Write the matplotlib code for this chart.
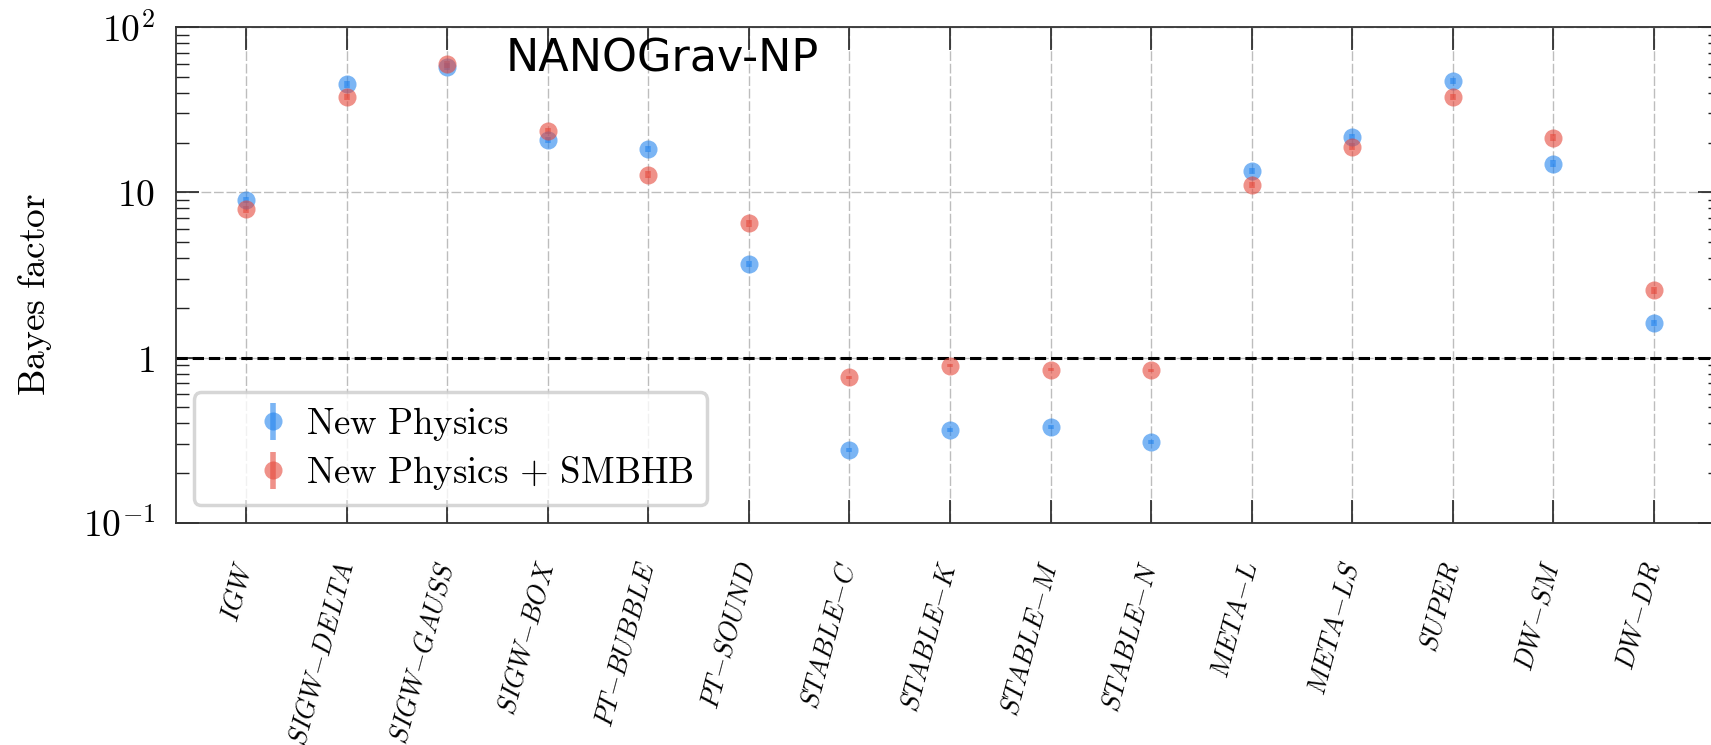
import numpy as np
import matplotlib
matplotlib.use('Agg')
import matplotlib.pyplot as plt
from matplotlib.ticker import FixedLocator, FixedFormatter, LogLocator, NullFormatter

plt.rcParams['mathtext.fontset'] = 'cm'

# Modelos y factores de Bayes
modelos = ['IGW', 'SIGW-DELTA', 'SIGW-GAUSS', 'SIGW-BOX', 'PT-BUBBLE', 'PT-SOUND',
           'STABLE-C', 'STABLE-K', 'STABLE-M', 'STABLE-N', 'META-L', 'META-LS',
           'SUPER', 'DW-SM', 'DW-DR']
bf_np = [9.0, 45.0, 57.6, 20.8, 18.3, 3.7, 0.278, 0.367, 0.381, 0.31, 13.5, 21.6, 47.2, 14.9, 1.63]
bf_np_smbhb = [7.9, 37.9, 59.5, 23.5, 12.8, 6.5, 0.76, 0.895, 0.846, 0.838, 11.1, 18.9, 37.8, 21.4, 2.55]
err_np = [0.4, 2.0, 2.6, 0.9, 0.8, 0.15, 0.008, 0.01, 0.01, 0.008, 0.6, 1.0, 2.1, 0.7, 0.07]
err_np_smbhb = [0.35, 1.7, 2.7, 1.1, 0.6, 0.3, 0.02, 0.02, 0.02, 0.02, 0.5, 0.85, 1.7, 1.0, 0.12]

ytick_vals = [0.1, 1, 10, 100]
ytick_labels = [r'$10^{-1}$', r'$1$', r'$10$', r'$10^{2}$']

azul = '#2384ee'
rojo = '#e5483b'

fig = plt.figure(figsize=(17.11, 7.45), dpi=100)
ax = fig.add_axes([0.10286, 0.29799, 0.90298, 0.66577])

x = np.arange(len(modelos))

ax.errorbar(x, bf_np, yerr=err_np, fmt='o', color=azul, alpha=0.6, ms=13,
            elinewidth=4, capsize=0, mew=0, label=r'$\mathrm{New\ Physics}$', zorder=3)
ax.errorbar(x, bf_np_smbhb, yerr=err_np_smbhb, fmt='o', color=rojo, alpha=0.6, ms=13,
            elinewidth=4, capsize=0, mew=0,
            label=r'$\mathrm{New\ Physics}\,+\,\mathrm{SMBHB}$', zorder=3)

ax.axhline(1, color='black', linestyle='--', linewidth=2.2, zorder=2)

ax.set_yscale('log')
ax.set_ylim(0.1, 100)
ax.set_xlim(-0.70, 14.67)

ax.yaxis.set_major_locator(FixedLocator(ytick_vals))
ax.yaxis.set_major_formatter(FixedFormatter(ytick_labels))
ax.yaxis.set_minor_locator(LogLocator(base=10, subs=np.arange(2, 10)))
ax.yaxis.set_minor_formatter(NullFormatter())

# guion sin espaciado de operador binario
etiquetas = ['$' + m.replace('-', '{-}') + '$' for m in modelos]
ax.set_xticks(x)
ax.set_xticklabels(etiquetas, rotation=75, rotation_mode='anchor', ha='right', va='center')

ax.tick_params(axis='both', which='both', direction='in', top=True, right=True,
               color='#222222')
ax.tick_params(axis='both', which='major', length=16.5, width=1.2)
ax.tick_params(axis='y', which='minor', length=9.5, width=1.0)
ax.tick_params(axis='y', which='major', labelsize=27, pad=15)
ax.tick_params(axis='x', which='major', labelsize=19, pad=28)

for s in ax.spines.values():
    s.set_linewidth(1.3)
    s.set_color('#333333')

ax.grid(True, which='major', color='#bdbdbd', linestyle=(0, (7, 2)), linewidth=1.0, zorder=0)

ax.set_ylabel(r'$\mathrm{Bayes\ factor}$', fontsize=27, va='center')
ax.yaxis.set_label_coords(-0.0913, 0.46)

leg = ax.legend(loc='lower left', bbox_to_anchor=(0.0117, 0.036), borderaxespad=0,
                fontsize=26.5, frameon=True, fancybox=True, framealpha=0.8,
                edgecolor='#cccccc', labelspacing=0.3, handlelength=3.6,
                handletextpad=-0.9, borderpad=0.35)
leg.get_frame().set_linewidth(2.5)

fig.text(506 / 1711, 0.9034, 'NANOGrav-NP', fontsize=32, family='DejaVu Sans',
         va='baseline', ha='left')

fig.savefig('out.png', dpi=100)
